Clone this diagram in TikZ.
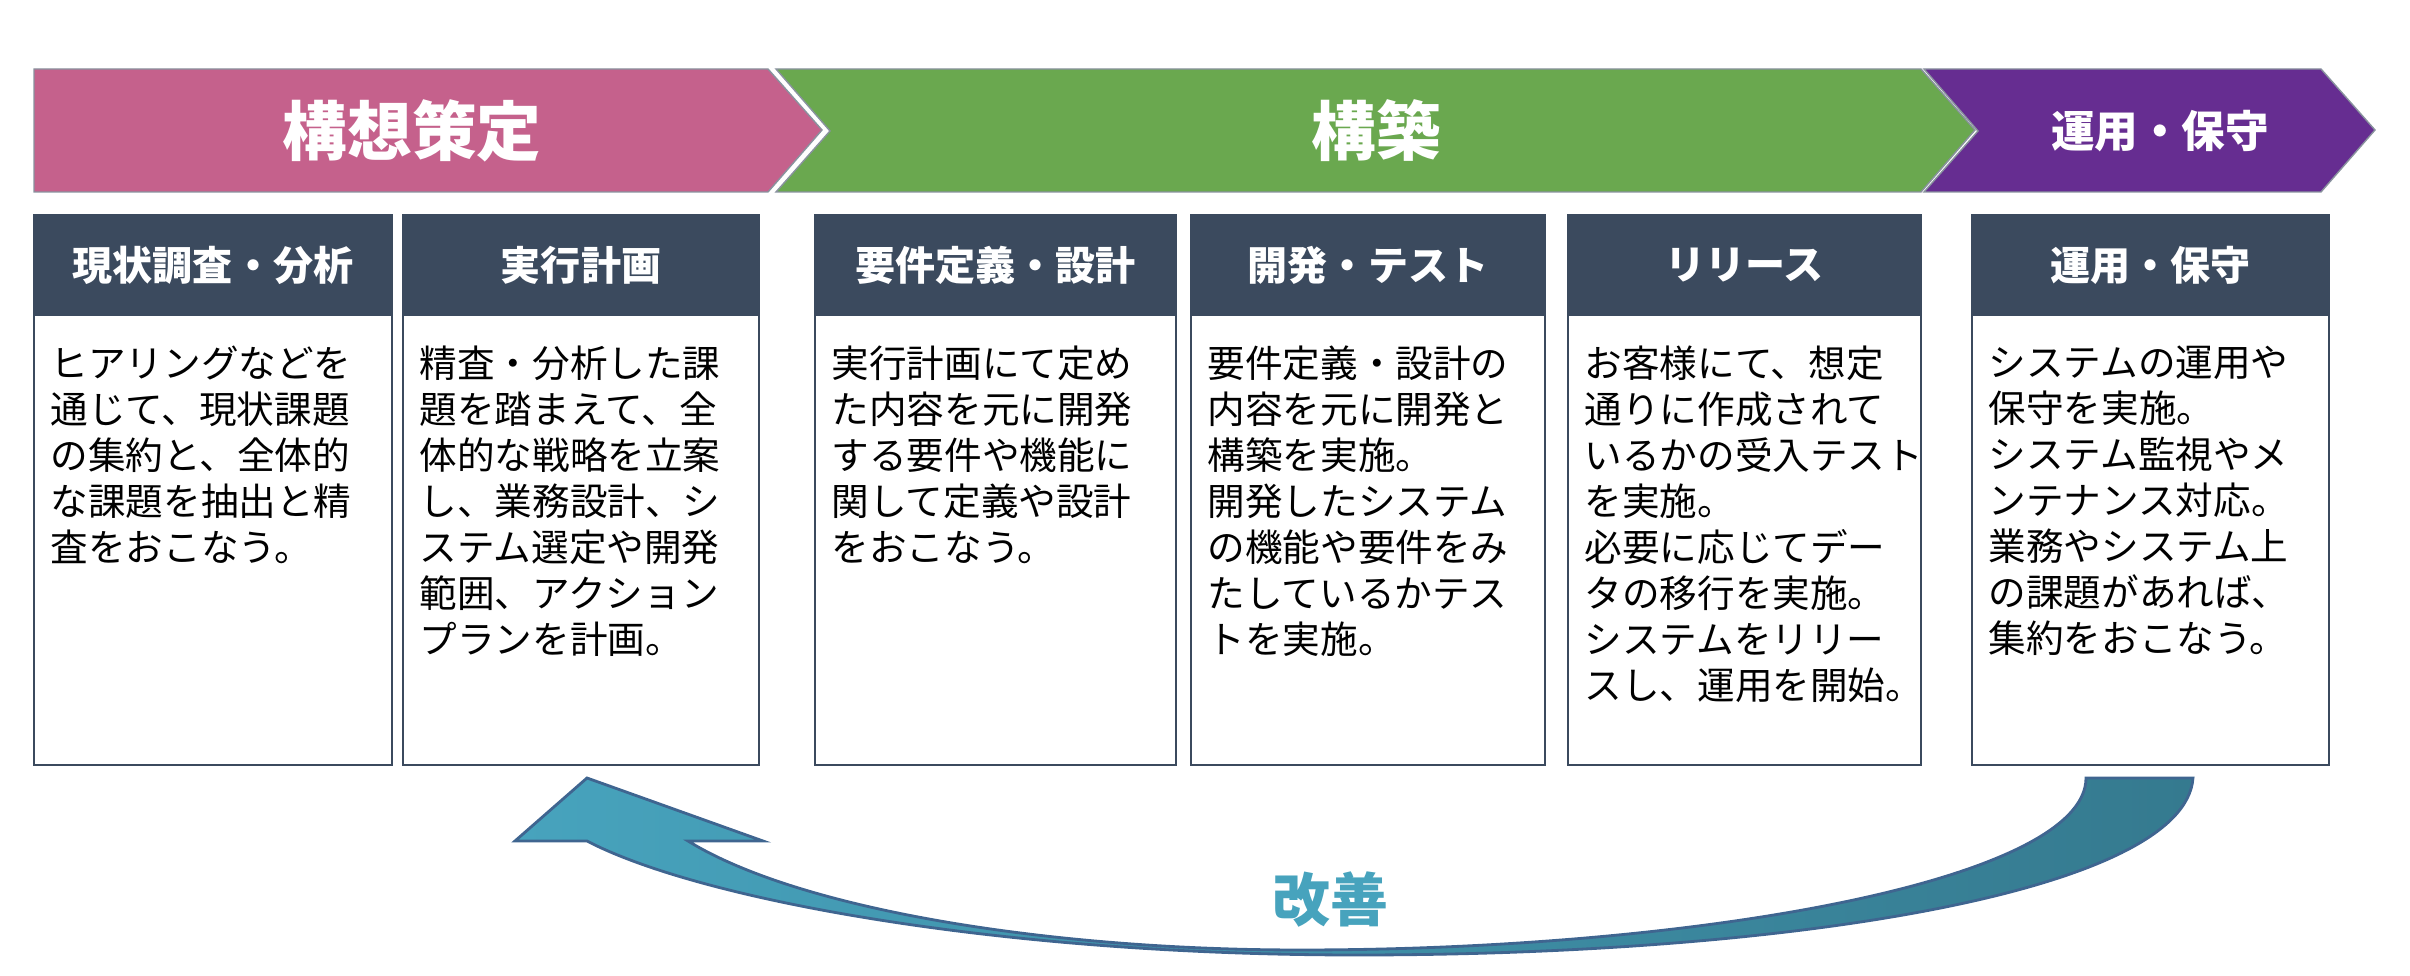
\documentclass[tikz,border=0pt]{standalone}
\usepackage{fontspec}
\setmainfont{Noto Sans CJK JP}
\usetikzlibrary{positioning}
\definecolor{pinkc}{HTML}{C5618C}
\definecolor{greenc}{HTML}{6AA84F}
\definecolor{purplec}{HTML}{662D91}
\definecolor{headc}{HTML}{3B4A5E}
\definecolor{arrowl}{HTML}{47A3BD}
\definecolor{arrowr}{HTML}{357A8F}
\definecolor{arrowb}{HTML}{3F6590}
\begin{document}
\begin{tikzpicture}
  [x=0.1mm,y=-0.1mm
  ,chevron/.style={draw=headc!60,line width=0.4pt}
  ,title/.style={text=white,font=\bfseries\fontsize{18.4}{22}\selectfont}
  ,header/.style={fill=headc,draw=headc,line width=0.6pt}
  ,body/.style={fill=white,draw=headc,line width=0.6pt}
  ,htext/.style={text=white,font=\bfseries\fontsize{11.4}{14}\selectfont}
  ,btext/.style={anchor=north west,align=left,inner sep=0pt,font=\fontsize{10.7}{13.1}\selectfont}
  ]
  \useasboundingbox (0,0) rectangle (2410,976);

  % Phase chevron
  %
  % #1 - start
  % #2 - body end
  % #3 - notch depth
  % #4 - color
  \newcommand{\phase}[4]{
    \path[chevron,fill=#4] (#1,69) -- (#2,69) -- ++(54,61) -- (#2,192)
      -- (#1,192) -- ++(#3,-61) -- cycle;
  }

  % Step column
  %
  % #1 - left
  % #2 - right
  % #3 - name
  % #4 - header text
  % #5 - body text
  \newcommand{\stepcol}[5]{
    \path[header] (#1,215) rectangle (#2,315);
    \path[body] (#1,315) rectangle (#2,765);
    \node[htext] (#3h) at ({(#1+#2)/2},265) {#4};
    \node[btext] (#3b) at (#1+16,345) {#5};
  }

  % phases
  \phase{34}{768}{0}{pinkc}
  \phase{776}{1921}{54}{greenc}
  \phase{1924}{2321}{54}{purplec}

  \node[title] (plan) at (412,131) {構想策定};
  \node[title] (build) at (1376,131) {構築};
  \node[title,font=\bfseries\fontsize{12.4}{15}\selectfont] (ops) at (2160,131) {運用・保守};

  % steps
  \stepcol{34}{392}{survey}{現状調査・分析}{ヒアリングなどを\\通じて、現状課題\\の集約と、全体的\\な課題を抽出と精\\査をおこなう。}
  \stepcol{403}{759}{exec}{実行計画}{精査・分析した課\\題を踏まえて、全\\体的な戦略を立案\\し、業務設計、シ\\ステム選定や開発\\範囲、アクション\\プランを計画。}
  \stepcol{815}{1176}{req}{要件定義・設計}{実行計画にて定め\\た内容を元に開発\\する要件や機能に\\関して定義や設計\\をおこなう。}
  \stepcol{1191}{1545}{dev}{開発・テスト}{要件定義・設計の\\内容を元に開発と\\構築を実施。\\開発したシステム\\の機能や要件をみ\\たしているかテス\\トを実施。}
  \stepcol{1568}{1921}{rel}{リリース}{お客様にて、想定\\通りに作成されて\\いるかの受入テスト\\を実施。\\必要に応じてデー\\タの移行を実施。\\システムをリリー\\スし、運用を開始。}
  \stepcol{1972}{2329}{opsc}{運用・保守}{システムの運用や\\保守を実施。\\システム監視やメ\\ンテナンス対応。\\業務やシステム上\\の課題があれば、\\集約をおこなう。}

  % improvement arrow
  \path[left color=arrowl,right color=arrowr,draw=arrowb,line width=0.8pt]
    (2193,778) .. controls (2185,890) and (1800,955) .. (1357,955)
    .. controls (1000,955) and (700,900) .. (587,841)
    -- (515,841) -- (587,778) -- (763,841) -- (688,841)
    .. controls (800,910) and (1050,950) .. (1300,950)
    .. controls (1700,950) and (2086,880) .. (2086,778) -- cycle;

  \node[text=arrowl,font=\bfseries\fontsize{16.5}{20}\selectfont] (kaizen) at (1330,900) {改善};

\end{tikzpicture}
\end{document}
